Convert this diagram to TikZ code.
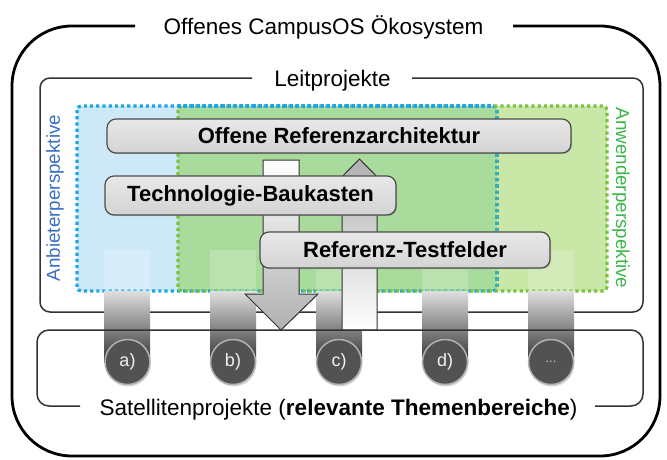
\documentclass[tikz,border=0pt]{standalone}
\usepackage{fontspec}
\setmainfont{Liberation Sans}
\usetikzlibrary{shadows}
\definecolor{bluefill}{HTML}{CDE9F8}
\definecolor{greenfill}{HTML}{C9E7A7}
\definecolor{overlapfill}{HTML}{A9DB9C}
\definecolor{bluedot}{HTML}{1EA5E6}
\definecolor{greendot}{HTML}{7CC242}
\definecolor{bluetext}{HTML}{3A6EC0}
\definecolor{greentext}{HTML}{3DB54A}
\tikzset{
  bigtext/.style={font=\fontsize{22.5}{24}\selectfont, inner sep=0pt},
  framebox/.style={line width=1.5pt, draw=black!80},
  outerbox/.style={line width=2.8pt, draw=black},
  dotborder/.style={line width=3.2pt, dash pattern=on 3.2pt off 3pt, rounded corners=4pt},
  persp/.style={font=\fontsize{18.8}{20}\selectfont, inner sep=0pt},
  graybox/.style={draw=black!70, line width=1.2pt, rounded corners=9pt, top color=gray!18, bottom color=gray!34,
    font=\bfseries\fontsize{22}{24}\selectfont, inner sep=0pt,
    drop shadow={shadow xshift=1.2pt, shadow yshift=-1.2pt, opacity=0.35}},
  arrowshape/.style={draw=black!80, line width=1pt},
  circ/.style={circle, minimum size=45pt, inner sep=0pt, fill=black!68, draw=gray!60, line width=1.5pt,
    text=gray!12, font=\fontsize{18}{19}\selectfont,
    drop shadow={shadow xshift=0.8pt, shadow yshift=-2pt, opacity=0.3}}
}
\begin{document}
\begin{tikzpicture}[x=1pt,y=-1pt]
\useasboundingbox (0,0) rectangle (667,459);
\fill[white] (0,0) rectangle (667,459);

% outer frame
\draw[outerbox, rounded corners=60pt] (135,26) -- (12,26) -- (12,456) -- (660,456) -- (660,26) -- (513,26);
\node[bigtext, anchor=base] (title) at (323.5,34) {Offenes CampusOS Ökosystem};

% Leitprojekte frame
\draw[framebox, rounded corners=10pt] (252,78) -- (40,78) -- (40,312) -- (643,312) -- (643,78) -- (412,78);
\node[bigtext, anchor=base] (leit) at (332.5,86) {Leitprojekte};

% perspective regions
\fill[bluefill, rounded corners=4pt] (77,106) rectangle (497,291);
\fill[greenfill, rounded corners=4pt] (178,106) rectangle (607,291);
\fill[overlapfill] (178,106) rectangle (497,291);
\draw[dotborder, draw=bluedot] (77,106) rectangle (497,291);
\draw[dotborder, draw=greendot] (178,106) rectangle (607,291);
\draw[dotborder, draw=bluedot, rounded corners=0pt] (178,106) -- (493,106);
\draw[dotborder, draw=bluedot!70!greendot, rounded corners=0pt] (497,110) -- (497,288);
\node[persp, rotate=90, text=bluetext] (anb) at (55,198) {Anbieterperspektive};
\node[persp, rotate=-90, text=greentext] (anw) at (621,198) {Anwenderperspektive};

% pillars
\foreach \cx in {127,233,339,445,551}{
  \fill[white, opacity=0.2] (\cx-23,250) rectangle (\cx+23,291);
  \shade[top color=gray!25, bottom color=black!80] (\cx-23,291) rectangle (\cx+23,362);
}

% arrows
\path[arrowshape, top color=white, bottom color=gray!62] (263,160) -- (299,160) -- (299,294) -- (318,294) -- (281,330) -- (245,294) -- (263,294) -- cycle;
\path[arrowshape, top color=gray!62, bottom color=white] (342,330) -- (377,330) -- (377,193) -- (393,193) -- (359.5,159) -- (326,193) -- (342,193) -- cycle;

% boxes
\node[graybox, minimum width=464pt, minimum height=34pt] (ora) at (339,136) {Offene Referenzarchitektur};
\node[graybox, minimum width=291pt, minimum height=39pt] (tbk) at (250.5,195.5) {Technologie-Baukasten};
\node[graybox, minimum width=290pt, minimum height=36pt] (rtf) at (405,250) {Referenz-Testfelder};

% Satellitenprojekte frame
\draw[framebox, rounded corners=12pt] (80,406) -- (37,406) -- (37,330) -- (643,330) -- (643,406) -- (595,406);
\node[bigtext, anchor=base] (sat) at (338.5,415) {Satellitenprojekte (\textbf{relevante Themenbereiche})};

% circles
\node[circ] (ca) at (127.5,362) {a)};
\node[circ] (cb) at (233,362) {b)};
\node[circ] (cc) at (339,362) {c)};
\node[circ] (cd) at (445,362) {d)};
\node[circ, text=gray!45, font=\fontsize{13}{14}\selectfont] (ce) at (551,362) {...};
\end{tikzpicture}
\end{document}
